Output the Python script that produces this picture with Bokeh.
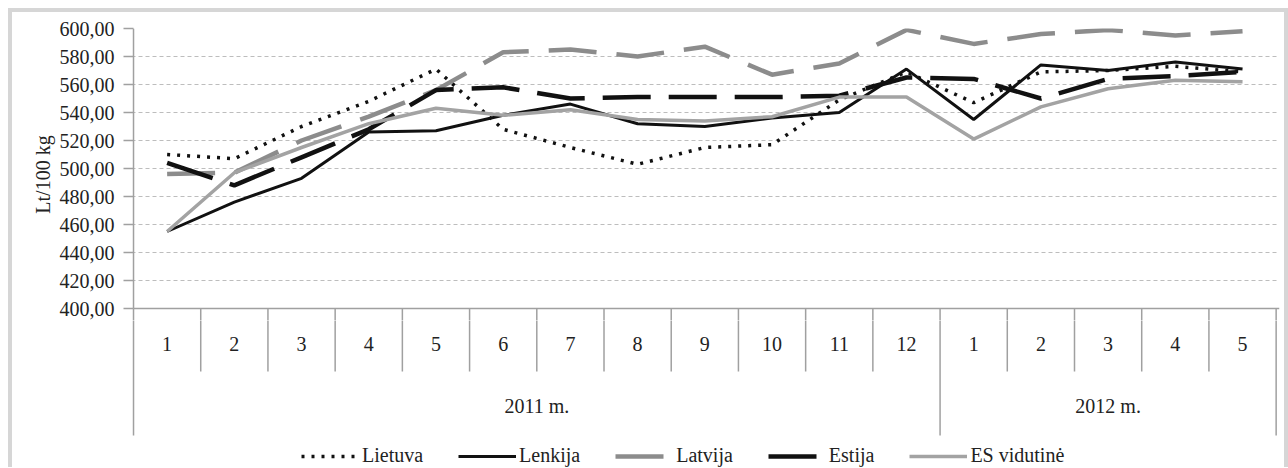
from bokeh.plotting import figure
from bokeh.layouts import column
from bokeh.models import (Range1d, FixedTicker, CustomJSTickFormatter,
                          Legend, LegendItem)
from bokeh.core.properties import value
from bokeh.embed import file_html
from bokeh.resources import INLINE

# ---- data ----
months = ["1", "2", "3", "4", "5", "6", "7", "8", "9", "10", "11", "12",
          "1", "2", "3", "4", "5"]
years = ["2011 m.", "2012 m."]
year_lengths = [12, 5]
lietuva = [510, 507, 530, 548, 571, 528, 515, 503, 515, 517, 549, 569, 547, 569, 570, 573, 569]
lenkija = [455, 476, 493, 526, 527, 538, 546, 532, 530, 536, 540, 571, 535, 574, 570, 576, 571]
latvija = [496, 497, 520, 537, 556, 583, 585, 580, 587, 567, 575, 599, 589, 596, 599, 595, 598]
estija = [504, 488, 508, 528, 556, 558, 550, 551, 551, 551, 552, 565, 564, 550, 564, 566, 569]
es_vid = [455, 497, 515, 532, 543, 538, 542, 535, 534, 537, 551, 551, 521, 544, 557, 563, 562]
series_names = ["Lietuva", "Lenkija", "Latvija", "Estija", "ES vidutinė"]
y_ticks = list(range(400, 601, 20))

FONT = "Liberation Serif"
GRID = "#bdbdbd"
AXIS = "#a0a0a0"
TXT = "#222222"

n = len(months)
xs = [i + 0.5 for i in range(n)]
ppu = 1.4
W = 1272
H1, H2 = 308, 147
TOP = 16
y1_start = 600 - (H1 - TOP) / ppu
y2_start = y1_start - H2 / ppu
xr = Range1d(-0.03, n + 0.05)

month_div_bottom = 400 - 63 / ppu
year_div_bottom = 400 - 127 / ppu
year_edges = [0]
for L in year_lengths:
    year_edges.append(year_edges[-1] + L)
inner = [i for i in range(1, n) if i not in year_edges]


def dividers(fig):
    fig.segment(x0=inner, y0=[400] * len(inner), x1=inner,
                y1=[month_div_bottom] * len(inner), line_color=AXIS, line_width=1.5)
    fig.segment(x0=year_edges, y0=[400] * len(year_edges), x1=year_edges,
                y1=[year_div_bottom] * len(year_edges), line_color=AXIS, line_width=1.5)


# ---------- upper chart ----------
p = figure(width=W, height=H1, output_backend="svg", toolbar_location=None,
           x_range=xr, y_range=Range1d(y1_start, 600),
           min_border_left=119, min_border_right=5, min_border_top=TOP,
           min_border_bottom=0, x_axis_location=None)
p.outline_line_color = None

ya = p.yaxis[0]
ya.ticker = FixedTicker(ticks=y_ticks)
ya.formatter = CustomJSTickFormatter(code="return tick.toFixed(2).replace('.', ',');")
ya.axis_line_color = None
ya.major_tick_line_color = AXIS
ya.major_tick_line_width = 1.5
ya.major_tick_out = 8
ya.major_tick_in = 2
ya.minor_tick_line_color = None
ya.major_label_text_font = FONT
ya.major_label_text_font_size = "20px"
ya.major_label_text_color = TXT
ya.major_label_standoff = 9
ya.axis_label = "Lt/100 kg"
ya.axis_label_text_font = FONT
ya.axis_label_text_font_size = "20px"
ya.axis_label_text_font_style = "normal"
ya.axis_label_text_color = TXT
ya.axis_label_standoff = 3

p.xgrid.visible = False
p.ygrid.ticker = FixedTicker(ticks=y_ticks[1:])
p.ygrid.grid_line_color = GRID
p.ygrid.grid_line_dash = "4 3"
p.ygrid.grid_line_width = 1

p.segment(x0=[0], y0=[400], x1=[n + 0.05], y1=[400], line_color=AXIS, line_width=1.5)
p.segment(x0=[0], y0=[600], x1=[0], y1=[400], line_color=AXIS, line_width=1.5)
dividers(p)

styles = [
    dict(line_color="#111111", line_width=3.5, line_dash="3 7"),
    dict(line_color="#111111", line_width=3),
    dict(line_color="#8c8c8c", line_width=4.5, line_dash="48 20"),
    dict(line_color="#111111", line_width=4.5, line_dash="48 18"),
    dict(line_color="#a3a3a3", line_width=3.5),
]
for vals, st in zip([lietuva, lenkija, latvija, estija, es_vid], styles):
    p.line(xs, vals, **st)

# ---------- category axis + legend ----------
q = figure(width=W, height=H2, output_backend="svg", toolbar_location=None,
           x_range=xr, y_range=Range1d(y2_start, y1_start),
           min_border_left=119, min_border_right=5, min_border_top=0,
           min_border_bottom=0, x_axis_location=None, y_axis_location=None)
q.outline_line_color = None
q.grid.visible = False
dividers(q)

q.text(x=xs, y=[400 - 35 / ppu] * n, text=months, text_font=value(FONT),
       text_font_size="20px", text_align="center", text_baseline="middle", text_color=TXT)
ycent = [(year_edges[i] + year_edges[i + 1]) / 2 for i in range(len(years))]
q.text(x=ycent, y=[400 - 97 / ppu] * len(years), text=years, text_font=value(FONT),
       text_font_size="20px", text_align="center", text_baseline="middle", text_color=TXT)

q_items = []
for name, st in zip(series_names, styles):
    r = q.line([0, 0], [y2_start - 10, y2_start - 10], **st)
    q_items.append(LegendItem(label=name, renderers=[r]))
legend = Legend(items=q_items, orientation="horizontal", location=(170, 0),
                label_text_font=FONT, label_text_font_size="20px", label_text_color=TXT,
                glyph_width=58, glyph_height=20, label_standoff=3, spacing=35,
                padding=0, margin=0, border_line_color=None, background_fill_alpha=0)
q.add_layout(legend, "center")

layout = column(p, q, spacing=0)
layout.styles = {"margin-left": "8px", "margin-top": "8px",
                 "border-left": "4px solid #d6d6d6", "border-top": "4px solid #d6d6d6",
                 "border-right": "4px solid #d6d6d6"}

open("out.html", "w").write(file_html(layout, INLINE))
